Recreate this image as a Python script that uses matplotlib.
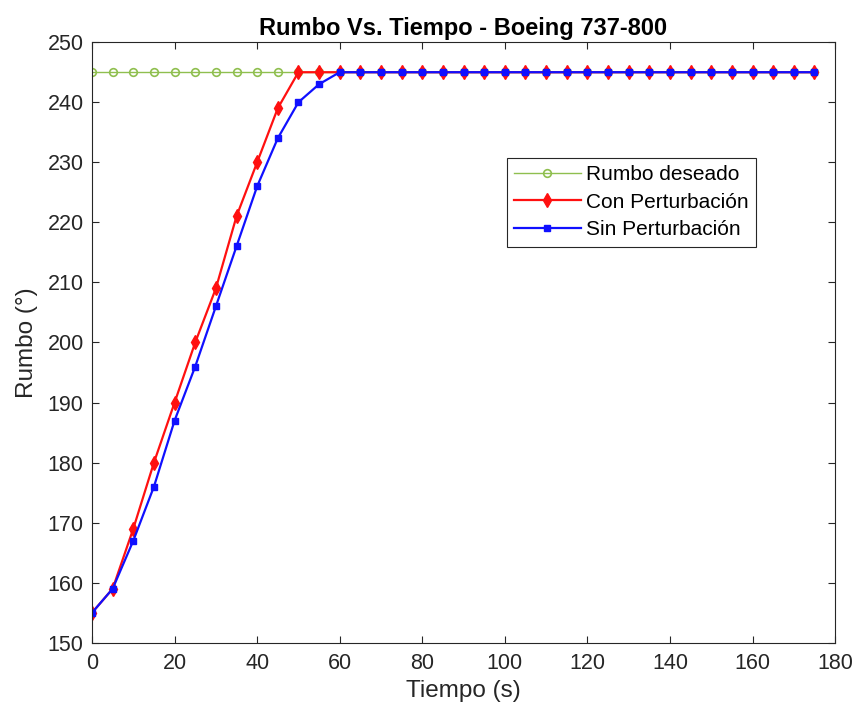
import numpy as np
import matplotlib.pyplot as plt

plt.rcParams['font.family'] = ['Liberation Sans', 'DejaVu Sans']

# time samples every 5 s
tiempo = np.arange(0, 180, 5)
rumbo_deseado = [245] * len(tiempo)
con_perturbacion = [155, 159, 169, 180, 190, 200, 209, 221, 230, 239, 245] + [245] * 25
sin_perturbacion = [155, 159, 167, 176, 187, 196, 206, 216, 226, 234, 240, 243] + [245] * 24

fig = plt.figure(figsize=(8.6, 7.15), dpi=100)
ax = fig.add_axes([0.107, 0.101, 0.864, 0.840])

ax.plot(tiempo, rumbo_deseado, '-o', color='#8fbf4f', lw=1.0, ms=5.5, mfc='none', mew=1.2,
        label='Rumbo deseado')
ax.plot(tiempo, con_perturbacion, '-d', color='#ff1010', lw=1.6, ms=7, mfc='#ff1010',
        label='Con Perturbación')
ax.plot(tiempo, sin_perturbacion, '-s', color='#1010ff', lw=1.6, ms=5, mfc='#1010ff',
        label='Sin Perturbación')

ax.set_xlim(0, 180)
ax.set_ylim(150, 250)
ax.set_xticks(np.arange(0, 181, 20))
ax.set_yticks(np.arange(150, 251, 10))
ax.tick_params(direction='in', length=5, labelsize=15.5, colors='#262626', top=True, right=True)
ax.tick_params(axis='x', pad=7)
ax.tick_params(axis='y', pad=6)
for s in ax.spines.values():
    s.set_color('#262626')
    s.set_linewidth(0.8)

ax.set_xlabel('Tiempo (s)', fontsize=17.5, color='#262626', labelpad=5)
ax.set_ylabel('Rumbo (°)', fontsize=17.5, color='#262626', labelpad=7)
ax.set_title('Rumbo Vs. Tiempo - Boeing 737-800', fontsize=17, fontweight='bold', pad=5)

leg = ax.legend(loc='upper left', bbox_to_anchor=(0.558, 0.808), fontsize=15,
                fancybox=False, edgecolor='#262626', framealpha=1, handlelength=3.2,
                borderpad=0.35, labelspacing=0.42, handletextpad=0.25, borderaxespad=0)
leg.get_frame().set_linewidth(0.8)

fig.savefig('out.png', dpi=100)
